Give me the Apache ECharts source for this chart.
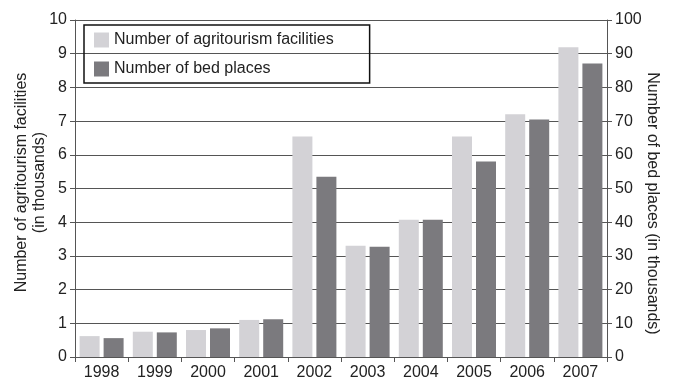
<!DOCTYPE html>
<html>
<head>
<meta charset="utf-8">
<script src="https://cdn.jsdelivr.net/npm/echarts@6/dist/echarts.min.js"></script>
<style>
html, body { margin: 0; padding: 0; background: #fff; }
#main { width: 675px; height: 386px; }
</style>
</head>
<body>
<div id="main"></div>
<script>
// data
var years = ['1998', '1999', '2000', '2001', '2002', '2003', '2004', '2005', '2006', '2007'];
var facilities = [0.62, 0.75, 0.80, 1.10, 6.54, 3.30, 4.07, 6.54, 7.20, 9.19];
var bedPlaces = [5.6, 7.3, 8.5, 11.2, 53.5, 32.7, 40.7, 58.0, 70.5, 87.1];

var myChart = echarts.init(document.getElementById('main'));

var font = 'Liberation Sans, Arial, sans-serif';

myChart.setOption({
    backgroundColor: '#fff',
    animation: false,
    textStyle: { fontFamily: font },
    grid: { left: 75, right: 68, top: 20, bottom: 29 },
    legend: {
        left: 84,
        top: 25,
        orient: 'vertical',
        icon: 'rect',
        itemWidth: 15,
        itemHeight: 15,
        itemGap: 13,
        padding: [7, 36, 6, 10],
        borderColor: '#111',
        borderWidth: 1.5,
        textStyle: { fontSize: 16, color: '#222', fontFamily: font },
        data: ['Number of agritourism facilities', 'Number of bed places']
    },
    xAxis: {
        type: 'category',
        data: years,
        axisLine: { lineStyle: { color: '#555' } },
        axisTick: { show: true, lineStyle: { color: '#555' } },
        axisLabel: { fontSize: 16, color: '#222', margin: 8 }
    },
    yAxis: [{
        type: 'value',
        min: 0,
        max: 10,
        interval: 1,
        name: 'Number of agritourism facilities\n(in thousands)',
        nameLocation: 'middle',
        nameGap: 26,
        nameMoveOverlap: false,
        nameRotate: 90,
        nameTextStyle: { fontSize: 16, color: '#222', lineHeight: 18, padding: [0, 0, 0, 12] },
        axisLine: { show: true, lineStyle: { color: '#555' } },
        axisTick: { show: true, lineStyle: { color: '#555' } },
        axisLabel: { fontSize: 16, color: '#222', margin: 8 },
        splitLine: { lineStyle: { color: '#555', width: 1 } }
    }, {
        type: 'value',
        min: 0,
        max: 100,
        interval: 10,
        position: 'right',
        name: 'Number of bed places (in thousands)',
        nameLocation: 'middle',
        nameGap: 37,
        nameMoveOverlap: false,
        nameRotate: -90,
        nameTextStyle: { fontSize: 16, color: '#222', padding: [0, 0, 0, 30] },
        axisLine: { show: true, lineStyle: { color: '#555' } },
        axisTick: { show: true, lineStyle: { color: '#555' } },
        axisLabel: { fontSize: 16, color: '#222', margin: 8 },
        splitLine: { show: false }
    }],
    series: [{
        name: 'Number of agritourism facilities',
        type: 'bar',
        yAxisIndex: 0,
        data: facilities,
        barWidth: 20,
        barGap: '20%',
        itemStyle: { color: '#d3d2d6' }
    }, {
        name: 'Number of bed places',
        type: 'bar',
        yAxisIndex: 1,
        data: bedPlaces,
        barWidth: 20,
        barGap: '20%',
        itemStyle: { color: '#7b7a7e' }
    }]
});
</script>
</body>
</html>
